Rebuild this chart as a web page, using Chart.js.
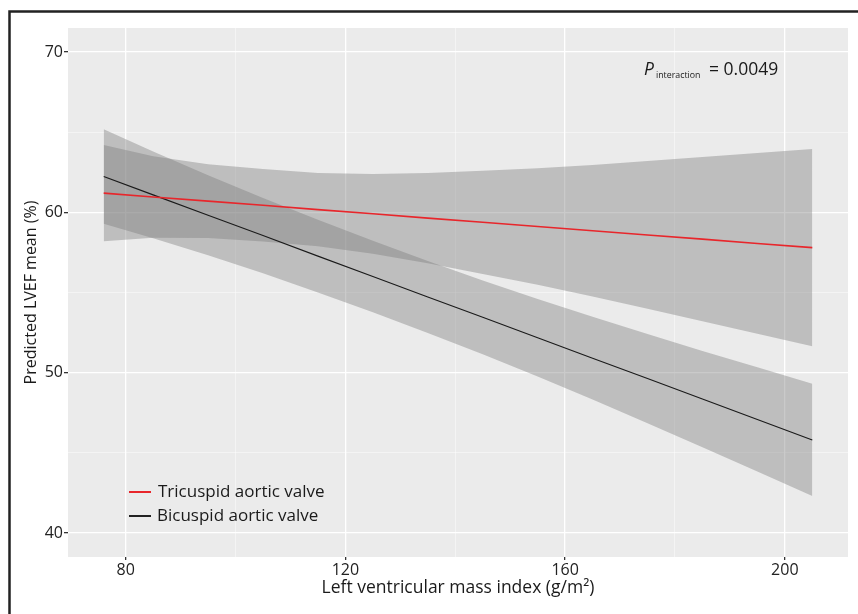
<!DOCTYPE html>
<html>
<head>
<meta charset="utf-8">
<script src="https://cdn.jsdelivr.net/npm/chart.js@4/dist/chart.umd.min.js"></script>
<style>
  html, body { margin: 0; padding: 0; background: #fff; }
  #wrap { width: 858px; height: 614px; position: relative; }
</style>
</head>
<body>
<div id="wrap"><canvas id="lvefChart" width="858" height="614"></canvas></div>
<script>
// x positions (left ventricular mass index, g/m2)
const massIndex = [76, 85, 95, 105, 115, 125, 135, 145, 155, 165, 175, 185, 195, 205];

// tricuspid aortic valve: fit and 95% band
const tavFit   = [61.2, 60.96, 60.70, 60.44, 60.17, 59.91, 59.64, 59.38, 59.12, 58.85, 58.59, 58.33, 58.06, 57.8];
const tavUpper = [64.2, 63.5, 63.0, 62.7, 62.45, 62.4, 62.45, 62.6, 62.75, 62.95, 63.2, 63.45, 63.7, 63.95];
const tavLower = [58.2, 58.42, 58.4, 58.18, 57.89, 57.42, 56.83, 56.16, 55.49, 54.75, 53.98, 53.21, 52.42, 51.65];

// bicuspid aortic valve: fit and 95% band
const bavFit   = [62.24, 61.09, 59.82, 58.55, 57.27, 56.0, 54.72, 53.45, 52.18, 50.9, 49.63, 48.35, 47.08, 45.8];
const bavUpper = [65.19, 63.79, 62.32, 60.9, 59.54, 58.23, 56.96, 55.75, 54.6, 53.48, 52.41, 51.35, 50.33, 49.3];
const bavLower = [59.29, 58.39, 57.32, 56.2, 55.0, 53.77, 52.48, 51.15, 49.76, 48.32, 46.85, 45.35, 43.83, 42.3];

const xTicks = [80, 100, 120, 140, 160, 180, 200];
const yTicks = [40, 45, 50, 55, 60, 65, 70];

const pts = (ys) => massIndex.map((x, i) => ({ x: x, y: ys[i] }));

const bandFill = 'rgba(122, 122, 122, 0.4)';
const FONT = "'Open Sans', 'DejaVu Sans', sans-serif";

// panel background + outer frame
const panelBg = {
    id: 'panelBg',
    beforeDraw(chart) {
        const { ctx, chartArea: a } = chart;
        ctx.save();
        ctx.fillStyle = '#EBEBEB';
        ctx.fillRect(a.left, a.top, a.right - a.left, a.bottom - a.top);
        ctx.strokeStyle = '#222';
        ctx.lineWidth = 2.5;
        ctx.beginPath();
        ctx.moveTo(9.5, 614);
        ctx.lineTo(9.5, 11.5);
        ctx.lineTo(858, 11.5);
        ctx.stroke();
        ctx.restore();
    }
};

// legend inside the panel and the p-value note
const notes = {
    id: 'notes',
    afterDraw(chart) {
        const { ctx } = chart;
        ctx.save();
        ctx.textBaseline = 'middle';
        ctx.lineWidth = 2;
        ctx.strokeStyle = '#E8262B';
        ctx.beginPath(); ctx.moveTo(129, 492); ctx.lineTo(151, 492); ctx.stroke();
        ctx.strokeStyle = '#222';
        ctx.beginPath(); ctx.moveTo(129, 516); ctx.lineTo(151, 516); ctx.stroke();
        ctx.fillStyle = '#1a1a1a';
        ctx.font = '17px ' + FONT;
        ctx.fillText('Tricuspid aortic valve', 158, 492);
        ctx.fillText('Bicuspid aortic valve', 157, 516);

        ctx.textBaseline = 'alphabetic';
        ctx.font = 'italic 17.5px ' + FONT;
        ctx.fillText('P', 644, 75);
        ctx.font = '8.8px ' + FONT;
        ctx.fillText('interaction', 656, 78);
        ctx.font = '17.5px ' + FONT;
        ctx.fillText('= 0.0049', 709, 75);
        ctx.restore();
    }
};

const ctx = document.getElementById('lvefChart').getContext('2d');

new Chart(ctx, {
    type: 'line',
    data: {
        datasets: [
            { label: 'Tricuspid aortic valve', data: pts(tavFit), borderColor: '#E8262B', borderWidth: 1.6, pointRadius: 0, fill: false },
            { label: 'Bicuspid aortic valve', data: pts(bavFit), borderColor: '#1a1a1a', borderWidth: 1.1, pointRadius: 0, fill: false },
            { label: 'tav upper', data: pts(tavUpper), borderWidth: 0, pointRadius: 0, fill: false },
            { label: 'tav lower', data: pts(tavLower), borderWidth: 0, pointRadius: 0, backgroundColor: bandFill, fill: '-1' },
            { label: 'bav upper', data: pts(bavUpper), borderWidth: 0, pointRadius: 0, fill: false },
            { label: 'bav lower', data: pts(bavLower), borderWidth: 0, pointRadius: 0, backgroundColor: bandFill, fill: '-1' }
        ]
    },
    options: {
        responsive: false,
        animation: false,
        layout: { padding: { left: 0, right: 10, top: 28, bottom: 0 } },
        plugins: {
            legend: { display: false },
            tooltip: { enabled: false }
        },
        scales: {
            x: {
                type: 'linear',
                min: 69.5,
                max: 211.5,
                afterBuildTicks: (axis) => { axis.ticks = xTicks.map(v => ({ value: v })); },
                afterFit: (axis) => { axis.height = 57; },
                border: { display: false },
                grid: {
                    color: (c) => c.tick && c.tick.value % 40 === 0 ? '#FFFFFF' : 'rgba(255,255,255,0.75)',
                    lineWidth: (c) => c.tick && c.tick.value % 40 === 0 ? 1.3 : 0.6,
                    tickColor: (c) => c.tick && c.tick.value % 40 === 0 ? '#333' : 'rgba(0,0,0,0)',
                    tickLength: 3
                },
                ticks: {
                    color: '#222',
                    padding: 1,
                    font: { family: FONT, size: 16 },
                    callback: (v) => v % 40 === 0 ? v : ''
                },
                title: {
                    display: true,
                    text: 'Left ventricular mass index (g/m²)',
                    color: '#1a1a1a',
                    font: { family: FONT, size: 17.5 },
                    padding: { top: 0, bottom: 15 }
                }
            },
            y: {
                min: 38.5,
                max: 71.5,
                afterBuildTicks: (axis) => { axis.ticks = yTicks.map(v => ({ value: v })); },
                afterFit: (axis) => { axis.width = 68; },
                border: { display: false },
                grid: {
                    color: (c) => c.tick && c.tick.value % 10 === 0 ? '#FFFFFF' : 'rgba(255,255,255,0.75)',
                    lineWidth: (c) => c.tick && c.tick.value % 10 === 0 ? 1.3 : 0.6,
                    tickColor: (c) => c.tick && c.tick.value % 10 === 0 ? '#333' : 'rgba(0,0,0,0)',
                    tickLength: 4
                },
                ticks: {
                    color: '#222',
                    padding: 1,
                    font: { family: FONT, size: 16 },
                    callback: (v) => v % 10 === 0 ? v : ''
                },
                title: {
                    display: true,
                    text: 'Predicted LVEF mean (%)',
                    color: '#1a1a1a',
                    font: { family: FONT, size: 16 },
                    padding: { top: 22, bottom: 0 }
                }
            }
        }
    },
    plugins: [panelBg, notes]
});
</script>
</body>
</html>
